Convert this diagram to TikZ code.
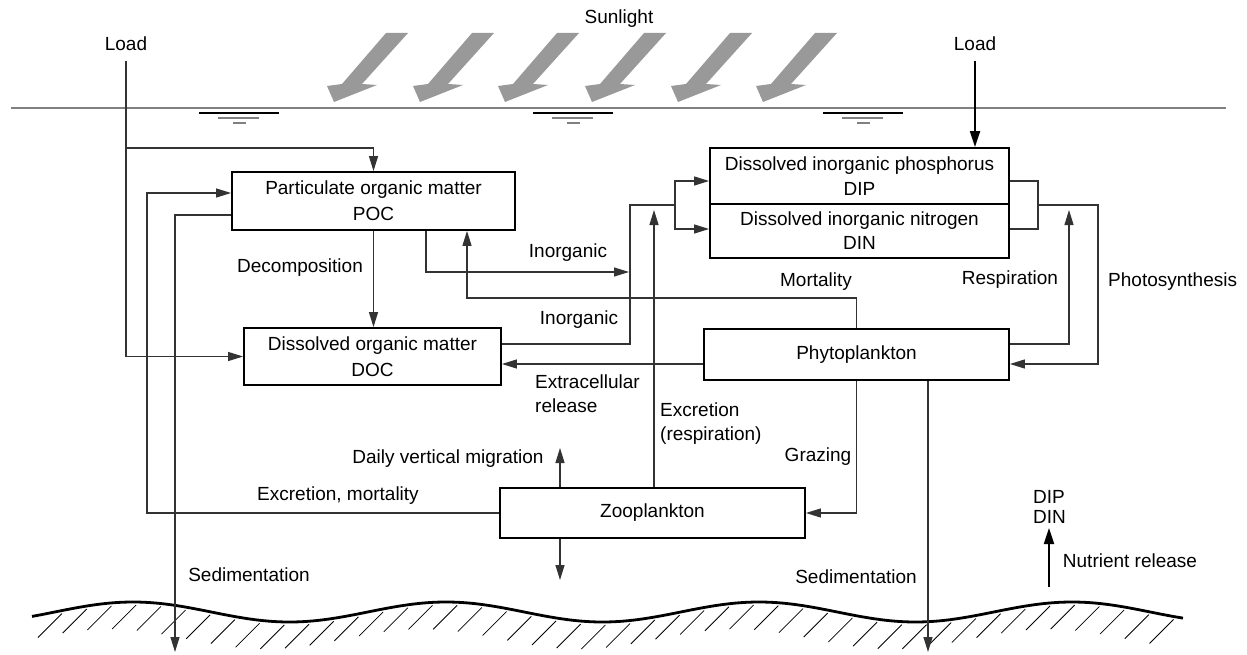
\documentclass[tikz,border=0pt]{standalone}
\usepackage{fontspec}
\setmainfont{Liberation Sans}
\usetikzlibrary{arrows.meta,calc}
\begin{document}
\begin{tikzpicture}[x=1pt,y=-1pt,
  every node/.style={font=\fontsize{19}{24}\selectfont, inner sep=0pt},
  box/.style={draw=black, line width=1.8pt, align=center},
  conn/.style={draw=black!80, line width=1.2pt},
  tip/.style={-{Triangle[length=15pt,width=9pt]}},
  bigtip/.style={line width=2pt,-{Triangle[length=16pt,width=10pt]}},
  sun/.style={fill=black!40},
  water/.style={draw=black!50, line width=2pt},
  lbl/.style={}]
\useasboundingbox (0,0) rectangle (1247,655);

% water surface
\draw[water] (11,108) -- (1226,108);
\foreach \c in {239,573,863}{
  \draw[line width=1.2pt] ({\c-40},113) -- ({\c+40},113);
  \draw[water] ({\c-21},118) -- ({\c+20},118);
  \draw[water] ({\c-6},123) -- ({\c+7},123);
}

% sunlight arrows
\foreach \t in {334,420,505,592,678,763}{
  \fill[sun] ({\t+52},33) -- ({\t+74},33) -- ({\t+28},84) -- ({\t+43},85)
     -- (\t,102) -- ({\t-7},86) -- ({\t+8},84) -- cycle;
}
\node[lbl] (sunl) at (619,19) {Sunlight};

% sea bed
\draw[line width=2.8pt] plot[domain=32:1183,samples=140,smooth] (\x,{612-10*cos((\x-133)/313*360)});
\foreach \i in {0,...,45}{
  \pgfmathsetmacro\hx{62+24.7*\i}
  \pgfmathsetmacro\hy{612-10*cos((\hx-133)/313*360)+3}
  \draw[line width=0.8pt] (\hx,\hy) -- ++(-24,24);
}

% boxes
\node[box, minimum width=283pt, minimum height=58pt] (POC) at (373.5,201) {Particulate organic matter\\[2pt]POC};
\node[box, minimum width=257pt, minimum height=57pt] (DOC) at (372.5,356.5) {Dissolved organic matter\\[2pt]DOC};
\node[box, minimum width=299pt, minimum height=56pt] (DIP) at (859.5,176) {Dissolved inorganic phosphorus\\[1pt]DIP};
\node[box, minimum width=299pt, minimum height=54pt] (DIN) at (859.5,231) {Dissolved inorganic nitrogen\\DIN};
\node[box, minimum width=305pt, minimum height=51pt] (Phyto) at (856.5,354.5) {Phytoplankton};
\node[box, minimum width=305pt, minimum height=50pt] (Zoo) at (652.5,513) {Zooplankton};

% labels
\node[lbl] (loadL) at (126,44) {Load};
\node[lbl] (loadR) at (975,44) {Load};
\node[lbl] (decl) at (300,268) {Decomposition};
\node[lbl] (inl1) at (568,253) {Inorganic};
\node[lbl] (inl2) at (579,320) {Inorganic};
\node[lbl] (mortl) at (816,282) {Mortality};
\node[lbl] (respl) at (1010,280) {Respiration};
\node[lbl, anchor=west] (photl) at (1108,282) {Photosynthesis};
\node[lbl, anchor=west, align=left] (extl) at (535,394) {Extracellular\\release};
\node[lbl, anchor=west, align=left] (excl) at (660,424) {Excretion\\(respiration)};
\node[lbl] (dvml) at (448,459) {Daily vertical migration};
\node[lbl] (emol) at (338,496) {Excretion, mortality};
\node[lbl] (grzl) at (818,457) {Grazing};
\node[lbl] (sedl1) at (249,575) {Sedimentation};
\node[lbl] (sedl2) at (856,577) {Sedimentation};
\node[lbl, anchor=west, align=left] (ddl) at (1033,507) {DIP\\[-4pt]DIN};
\node[lbl] (nrl) at (1130,561) {Nutrient release};

% connectors
\coordinate (lL) at (126,61);
\coordinate (lJ) at (126,148);
\draw[conn,tip] (lL) |- (DOC.west);
\draw[conn,tip] (lJ) -| (POC.north);

\coordinate (exL) at (147,193);
\draw[conn,tip] (Zoo.west) -| (exL) -- (exL -| POC.west);

\coordinate (sedL) at (175,652);
\draw[conn,tip] ($(POC.west)+(0,14)$) -| (sedL);

\draw[conn,tip] (POC.south) -- (POC.south |- DOC.north);

\coordinate (inA) at (629,272);
\draw[conn,tip] ($(POC.south)+(52.5,0)$) |- (inA);

\coordinate (mo) at (467,298);
\draw[conn,tip] (Phyto.north) |- (mo) -- (mo |- POC.south);

\coordinate (jA) at (630,205);
\coordinate (jB) at (675,205);
\draw[conn] ($(DOC.east)+(0,-12.5)$) -| (jA) -- (jB);
\draw[conn,tip] (jB) |- ($(DIP.west)+(0,5)$);
\draw[conn,tip] (jB) |- ($(DIN.west)+(0,-2)$);

\coordinate (exT) at (654,210);
\draw[conn,tip] (exT |- Zoo.north) -- (exT);

\coordinate (ecr) at ($(Phyto.west)+(0,9.5)$);
\draw[conn,tip] (ecr) -- (ecr -| DOC.east);

\draw[conn,tip] (Phyto.south) |- (Zoo.east);

\coordinate (sedR) at (928,652);
\draw[conn,tip] (sedR |- Phyto.south) -- (sedR);

\coordinate (dvU) at (560,448);
\coordinate (dvD) at (560,580);
\draw[conn,tip] (dvU |- Zoo.north) -- (dvU);
\draw[conn,tip] (dvD |- Zoo.south) -- (dvD);

\coordinate (resT) at (1069,210);
\draw[conn,tip] ($(Phyto.east)+(0,-10.5)$) -| (resT);

\coordinate (phT) at (1038,181);
\coordinate (phB) at (1038,229);
\draw[conn] (phT -| DIP.east) -- (phT) -- (phB) -- (phB -| DIN.east);
\coordinate (phJ) at (1038,205);
\coordinate (phR) at (1098,364);
\draw[conn,tip] (phJ) -| (phR) -- (phR -| Phyto.east);

\coordinate (lR) at (975,61);
\draw[bigtip] (lR) -- (lR |- DIP.north);

\coordinate (nrB) at (1049,587);
\coordinate (nrT) at (1049,528);
\draw[bigtip] (nrB) -- (nrT);
\end{tikzpicture}
\end{document}
